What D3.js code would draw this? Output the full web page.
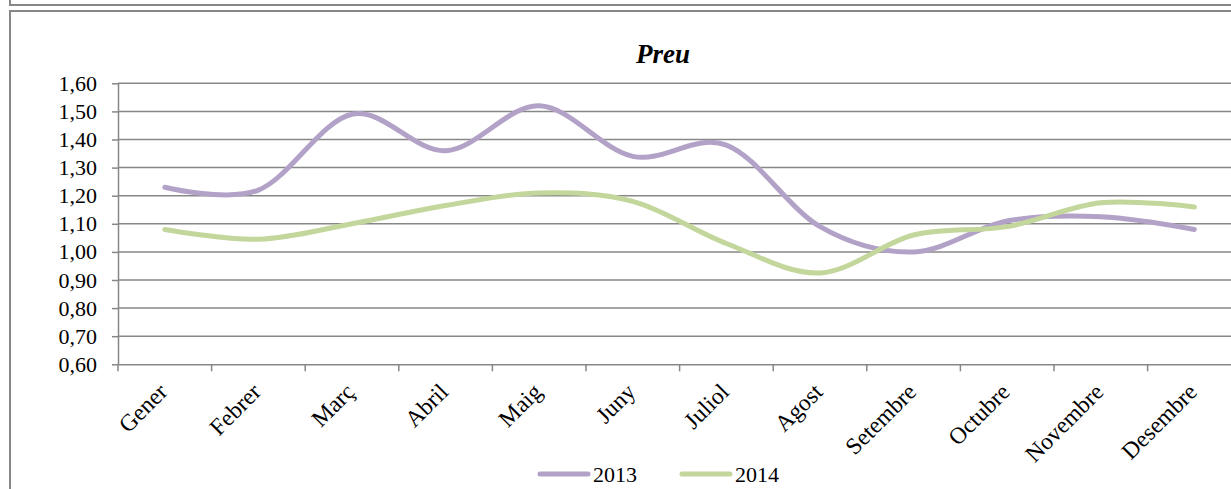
<!DOCTYPE html>
<html>
<head>
<meta charset="utf-8">
<script src="https://cdn.jsdelivr.net/npm/d3@7"></script>
<style>
  html, body { margin: 0; padding: 0; background: #fff; }
  svg { display: block; }
  text { font-family: "Liberation Serif", "Times New Roman", serif; fill: #000; }
</style>
</head>
<body>
<svg id="chart" width="1231" height="489"></svg>
<script>
const months = ['Gener', 'Febrer', 'Març', 'Abril', 'Maig', 'Juny', 'Juliol', 'Agost', 'Setembre', 'Octubre', 'Novembre', 'Desembre'];
const values2013 = [1.23, 1.22, 1.49, 1.36, 1.52, 1.34, 1.38, 1.09, 1.00, 1.11, 1.125, 1.08];
const values2014 = [1.08, 1.045, 1.10, 1.165, 1.21, 1.18, 1.03, 0.925, 1.06, 1.09, 1.175, 1.16];
const yTicks = [0.6, 0.7, 0.8, 0.9, 1.0, 1.1, 1.2, 1.3, 1.4, 1.5, 1.6];
const series = [
  { name: '2013', values: values2013, color: '#b3a2c7' },
  { name: '2014', values: values2014, color: '#c3d69b' }
];

const svg = d3.select('#chart');
const gray = '#878787';
const fmt = d => d.toFixed(2).replace('.', ',');

// frames (previous box bottom + this chart box)
svg.append('rect').attr('x', 10).attr('y', -20).attr('width', 1240).attr('height', 25)
  .attr('fill', 'none').attr('stroke', gray).attr('stroke-width', 2);
svg.append('rect').attr('x', 10).attr('y', 11).attr('width', 1240).attr('height', 500)
  .attr('fill', 'none').attr('stroke', gray).attr('stroke-width', 2);

const plotLeft = 118, plotTop = 83.3, plotBottom = 364.3;
const bandW = 93.6;
const plotRight = plotLeft + bandW * months.length;

const x = d3.scaleBand().domain(months).range([plotLeft, plotRight]);
const y = d3.scaleLinear().domain([0.6, 1.6]).range([plotBottom, plotTop]);

// gridlines
svg.append('g').selectAll('line').data(yTicks.slice(1)).join('line')
  .attr('x1', plotLeft).attr('x2', plotRight)
  .attr('y1', d => y(d)).attr('y2', d => y(d))
  .attr('stroke', gray).attr('stroke-width', 1.5);

// y axis
const yAxis = svg.append('g').attr('transform', `translate(${plotLeft},0)`)
  .call(d3.axisLeft(y).tickValues(yTicks).tickFormat(fmt).tickSizeInner(6).tickSizeOuter(0).tickPadding(15));
yAxis.select('.domain').attr('stroke', gray).attr('stroke-width', 1.5);
yAxis.selectAll('.tick line').attr('stroke', gray).attr('stroke-width', 1.5);
yAxis.selectAll('.tick text').attr('font-size', 22).attr('font-family', '"Liberation Serif", serif').attr('fill', '#000');

// x axis
const xAxis = svg.append('g').attr('transform', `translate(0,${plotBottom})`)
  .call(d3.axisBottom(x).tickSize(0).tickFormat(''));
xAxis.select('.domain').attr('stroke', gray).attr('stroke-width', 1.5);
xAxis.selectAll('.tick').remove();
xAxis.append('g').selectAll('line').data(months).join('line')
  .attr('x1', d => x(d)).attr('x2', d => x(d)).attr('y1', 0).attr('y2', 7)
  .attr('stroke', gray).attr('stroke-width', 1.5);
xAxis.append('g').selectAll('text').data(months).join('text')
  .attr('text-anchor', 'end')
  .attr('font-size', 23.5)
  .attr('transform', d => `translate(${x(d) + x.bandwidth() / 2 + 4},${29}) rotate(-45)`)
  .text(d => d);

// series lines
const line = d3.line()
  .x((d, i) => x(months[i]) + x.bandwidth() / 2)
  .y(d => y(d))
  .curve(d3.curveCatmullRom.alpha(0));

svg.append('g').selectAll('path').data(series).join('path')
  .attr('d', d => line(d.values))
  .attr('fill', 'none')
  .attr('stroke', d => d.color)
  .attr('stroke-width', 5)
  .attr('stroke-linecap', 'round');

// title
svg.append('text').attr('x', 663).attr('y', 63).attr('text-anchor', 'middle')
  .attr('font-size', 27).attr('font-weight', 'bold').attr('font-style', 'italic')
  .text('Preu');

// legend
const legend = svg.append('g').selectAll('g').data(series).join('g')
  .attr('transform', (d, i) => `translate(${540 + i * 142},474)`);
legend.append('line').attr('x1', 0).attr('x2', 48).attr('y1', 0).attr('y2', 0)
  .attr('stroke', d => d.color).attr('stroke-width', 5).attr('stroke-linecap', 'round');
legend.append('text').attr('x', 53).attr('y', 8).attr('font-size', 22).text(d => d.name);
</script>
</body>
</html>
